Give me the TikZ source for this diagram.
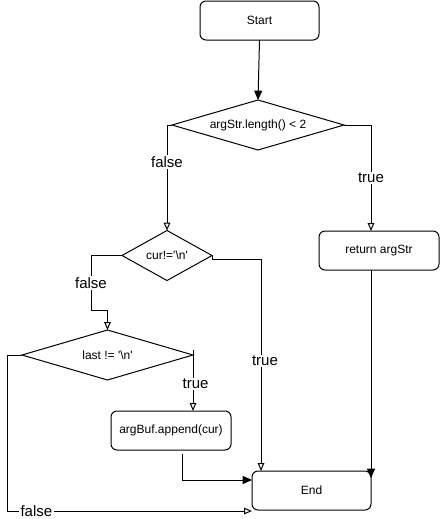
\documentclass[tikz,border=0pt]{standalone}
\usepackage{fontspec}
\setmainfont{Liberation Sans}
\usetikzlibrary{shapes.geometric,arrows.meta}
\begin{document}
\begin{tikzpicture}[x=0.75pt,y=-0.75pt,line width=0.75pt,
  box/.style={draw,rounded corners=4.5pt,minimum width=89.25pt,minimum height=29.25pt,inner sep=0pt,outer sep=0pt,font=\fontsize{9pt}{11pt}\selectfont},
  dec/.style={draw,diamond,aspect=3.5,inner sep=0pt,outer sep=0pt,minimum height=37.5pt,font=\fontsize{9pt}{11pt}\selectfont},
  lbl/.style={fill=white,inner sep=1pt,font=\fontsize{11.25pt}{13pt}\selectfont},
  fa/.style={-{Triangle[length=7pt,width=6pt]}},
  oa/.style={-{Triangle[length=6pt,width=5pt,fill=white]}}]
\useasboundingbox (0,0) rectangle (440,519);
% nodes
\node[box] (start) at (259.5,20.5) {Start};
\node[dec,minimum width=129pt] (d1) at (258,125) {argStr.length() < 2};
\node[box,minimum width=90pt] (ret) at (379,250.5) {return argStr};
\node[dec,aspect=1.8,minimum width=67.5pt] (cur) at (167,255.5) {cur!=\textquotesingle\textbackslash n\textquotesingle};
\node[dec,minimum width=128.25pt] (last) at (107.5,355) {last != \textquotesingle\textbackslash n\textquotesingle};
\node[box,minimum width=90pt] (app) at (171,430.5) {argBuf.append(cur)};
\node[box] (end) at (311.5,490.5) {End};
% helper coordinates
\coordinate (endR) at ([yshift=-5.25pt]end.north east);
\coordinate (endT) at ([xshift=6.75pt]end.north west);
\coordinate (endL) at ([yshift=7.875pt]end.west);
\coordinate (endB) at ([yshift=-0.75pt]end.south west);
% connectors
\draw[fa] (start.south) -- (d1.north);
\draw[oa] (d1.west) -| node[lbl,pos=0.675] {false} (cur.north);
\draw[oa] (d1.east) -| node[lbl,pos=0.75] {true} ([xshift=-6pt]ret.north);
\draw[fa] (endR |- ret.south) -- (endR);
\draw[oa] (cur.east) -- ++(0,4) -| node[lbl,pos=0.74,xshift=3pt] {true} (endT);
\draw[oa] (cur.west) -- ++(-31,0) -- node[lbl] {false} ++(0,55) -| (last.north);
\draw[oa] ([yshift=3.75pt]last.east) -- node[lbl,pos=0.56,xshift=2pt] {true} (last.east |- app.north);
\draw[fa] ([xshift=8.25pt,yshift=-3pt]app.south) |- (endL);
\draw[oa] (last.west) -- ++(-15,0) |- node[lbl,pos=0.56] {false} (endB);
\end{tikzpicture}
\end{document}
